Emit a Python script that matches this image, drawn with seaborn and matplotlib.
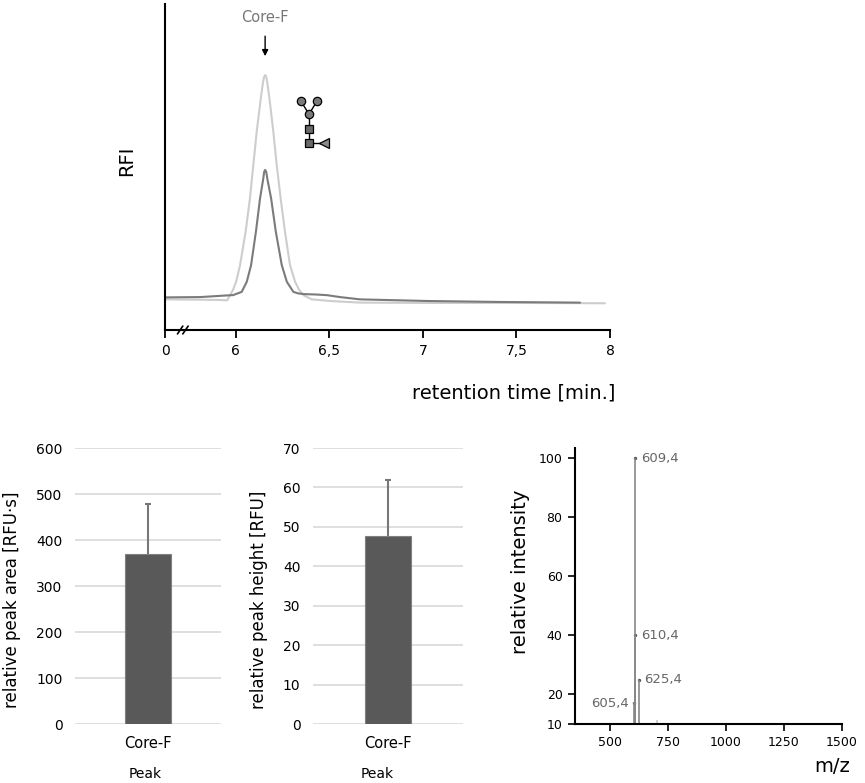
import numpy as np
import pandas as pd
import matplotlib
matplotlib.use("Agg")
import matplotlib.pyplot as plt
import seaborn as sns

# chromatogram traces (retention time in min, RFI in % of axis height)
light_time = [5.622, 5.809, 5.916, 5.954, 5.970, 5.986, 6.002, 6.023, 6.053, 6.076, 6.094,
              6.112, 6.134, 6.146, 6.152, 6.157, 6.163, 6.168, 6.180, 6.201, 6.219, 6.240,
              6.263, 6.290, 6.317, 6.340, 6.361, 6.406, 6.504, 6.664, 7.038, 7.519, 7.973]
light_rfi = [9.4, 9.3, 9.2, 9.1, 10.7, 12.4, 14.8, 19.9, 30.2, 40.4, 50.6,
             60.8, 71.1, 76.1, 77.7, 78.2, 77.7, 76.1, 71.1, 60.8, 50.6, 40.4,
             30.2, 19.9, 14.8, 12.2, 10.7, 9.4, 8.9, 8.4, 8.3, 8.3, 8.2]
dark_time = [5.622, 5.809, 5.952, 5.986, 6.032, 6.059, 6.082, 6.108, 6.130, 6.146,
             6.152, 6.157, 6.163, 6.170, 6.189, 6.214, 6.246, 6.273, 6.308, 6.335,
             6.370, 6.424, 6.486, 6.557, 6.664, 7.022, 7.412, 7.840]
dark_rfi = [10.0, 10.1, 10.6, 10.7, 11.7, 14.8, 19.9, 30.2, 40.4, 46.0,
            48.5, 49.1, 48.5, 46.0, 40.4, 30.2, 19.9, 14.8, 11.7, 11.2,
            11.0, 10.9, 10.7, 10.1, 9.4, 8.9, 8.6, 8.4]
rt_ticks = [5.622, 6, 6.5, 7, 7.5, 8]
rt_ticklabels = ["0", "6", "6,5", "7", "7,5", "8"]
peak_name = "Core-F"
peak_rt = 6.157

# bar charts
peaks = ["Core-F"]
peak_area = [370]
peak_area_err = [108]
peak_height = [47.7]
peak_height_err = [14.1]

# mass spectrum
ms_mz = [605.4, 607.0, 609.4, 610.4, 625.4, 705.0]
ms_int = [17, 24.5, 100, 40, 25, 11.2]
ms_labels = ["605,4", "", "609,4", "610,4", "625,4", ""]

sns.set_theme(style="white")
plt.rcParams['font.family'] = ['DejaVu Sans']
plt.rcParams['text.color'] = 'black'
plt.rcParams['axes.labelcolor'] = 'black'

W, H = 865, 783
fig = plt.figure(figsize=(W / 100, H / 100), dpi=100)


def box(x0, x1, ytop, ybot):
    return [x0 / W, 1 - ybot / H, (x1 - x0) / W, (ybot - ytop) / H]


# ---- chromatogram ----
ax = fig.add_axes(box(165, 610, 4, 330))
sns.lineplot(x=light_time, y=light_rfi, color="#cdcdcd", linewidth=1.5, sort=False, ax=ax)
sns.lineplot(x=dark_time, y=dark_rfi, color="#7b7b7b", linewidth=1.5, sort=False, ax=ax)
ax.set_xlim(rt_ticks[0], rt_ticks[-1])
ax.set_ylim(0, 100)
ax.set_xticks(rt_ticks)
ax.set_xticklabels(rt_ticklabels, fontsize=10)
ax.set_yticks([])
for s in ["top", "right"]:
    ax.spines[s].set_visible(False)
for s in ["left", "bottom"]:
    ax.spines[s].set_color("black")
    ax.spines[s].set_linewidth(1.5)
ax.tick_params(axis="x", direction="out", length=6, width=1.3, color="black",
               labelcolor="black", pad=4, bottom=True)
ax.set_ylabel("RFI", fontsize=14)
ax.yaxis.set_label_coords(-0.065, 0.52)
ax.set_xlabel("retention time [min.]", fontsize=14, loc="right")
ax.xaxis.set_label_coords(1.011, -0.163)
ax.xaxis.label.set_va("top")
# axis break
for dx in (0.0, 0.012):
    ax.plot([0.028 + dx, 0.04 + dx], [-0.012, 0.012], color="black", lw=1.2,
            transform=ax.transAxes, clip_on=False)
ax.annotate(peak_name, xy=(peak_rt, 84), xytext=(peak_rt, 96), ha="center", va="center",
            fontsize=10.5, color="#777777",
            arrowprops=dict(arrowstyle="-|>", color="black", lw=1, shrinkA=6, shrinkB=0,
                            mutation_scale=9))
# glycan symbol
tr = ax.transAxes
ax.plot([0.305, 0.3236, 0.342], [0.703, 0.662, 0.703], color="black", lw=1, transform=tr)
ax.plot([0.3236, 0.3236], [0.662, 0.575], color="black", lw=1, transform=tr)
ax.plot([0.3236, 0.357], [0.575, 0.575], color="black", lw=1, transform=tr)
ax.plot([0.305, 0.342, 0.3236], [0.703, 0.703, 0.662], "o", ms=6, mfc="#7a7a7a",
        mec="black", mew=0.9, transform=tr)
ax.plot([0.3236, 0.3236], [0.616, 0.575], "s", ms=5.6, mfc="#6a6a6a", mec="black",
        mew=0.9, transform=tr)
ax.plot([0.357], [0.575], "<", ms=7, mfc="#8a8a8a", mec="black", mew=0.9, transform=tr)


# ---- bar charts ----
def bar_panel(rect, values, errs, ymax, step, ylabel, ylab_x, xlab_x):
    bx = fig.add_axes(rect)
    df = pd.DataFrame({"peak": peaks, "value": values})
    sns.barplot(data=df, x="peak", y="value", color="#595959", width=0.31,
                edgecolor="#808080", linewidth=0.8, saturation=1, errorbar=None, ax=bx)
    eb = bx.errorbar(x=[0], y=values, yerr=[[0] * len(errs), errs], fmt="none",
                     ecolor="#777777", elinewidth=1.5, capsize=2.5, capthick=1.5)
    eb[1][0].set_visible(False)  # only the upper cap
    bx.set_ylim(0, ymax)
    bx.set_xlim(-0.5, 0.5)
    bx.set_yticks(np.arange(0, ymax + 1, step))
    bx.yaxis.grid(True, color="#d9d9d9", linewidth=1.2)
    bx.set_axisbelow(True)
    for s in bx.spines.values():
        s.set_visible(False)
    bx.tick_params(axis="both", length=0, labelsize=10, labelcolor="black")
    bx.tick_params(axis="y", pad=9)
    bx.tick_params(axis="x", pad=9, labelsize=10.5)
    bx.set_ylabel(ylabel, fontsize=12)
    bx.yaxis.set_label_coords(ylab_x, 0.45)
    bx.set_xlabel("Peak", fontsize=10)
    bx.xaxis.set_label_coords(xlab_x, -0.156)
    bx.xaxis.label.set_va("top")
    return bx


bar_panel(box(75, 221, 448, 724), peak_area, peak_area_err, 600, 100,
          "relative peak area [RFU·s]", -0.37, 0.48)
bar_panel(box(313, 463, 448, 724), peak_height, peak_height_err, 70, 10,
          "relative peak height [RFU]", -0.30, 0.43)

# ---- mass spectrum ----
mx = fig.add_axes(box(575, 842, 448, 724))
ms_df = pd.DataFrame({"mz": ms_mz, "intensity": ms_int, "label": ms_labels})
mx.vlines(ms_df["mz"], 10, ms_df["intensity"],
          colors=["#888888"] * 5 + ["#c8c8c8"], linewidth=1.2)
lab = ms_df[ms_df["label"] != ""]
sns.scatterplot(data=lab, x="mz", y="intensity", color="#555555", s=6, linewidth=0,
                legend=False, ax=mx)
for _, r in lab.iterrows():
    left = r["mz"] < 607
    mx.annotate(r["label"], xy=(r["mz"], r["intensity"]),
                xytext=(-4 if left else 4, 0), textcoords="offset points",
                ha="right" if left else "left", va="center", fontsize=9.5, color="#666666")
mx.set_xlim(350, 1500)
mx.set_ylim(10, 103.4)
mx.set_xticks([500, 750, 1000, 1250, 1500])
mx.set_yticks([10, 20, 40, 60, 80, 100])
for s in ["top", "right"]:
    mx.spines[s].set_visible(False)
for s in ["left", "bottom"]:
    mx.spines[s].set_color("black")
    mx.spines[s].set_linewidth(1.5)
mx.tick_params(axis="both", direction="out", length=5, width=1.2, color="black",
               labelcolor="black", labelsize=9, pad=4, bottom=True, left=True)
mx.set_ylabel("relative intensity", fontsize=14)
mx.yaxis.set_label_coords(-0.169, 0.55)
mx.set_xlabel("m/z", fontsize=14, loc="right")
mx.xaxis.set_label_coords(1.031, -0.12)
mx.xaxis.label.set_va("top")

fig.savefig("out.png", dpi=100, facecolor="white")
